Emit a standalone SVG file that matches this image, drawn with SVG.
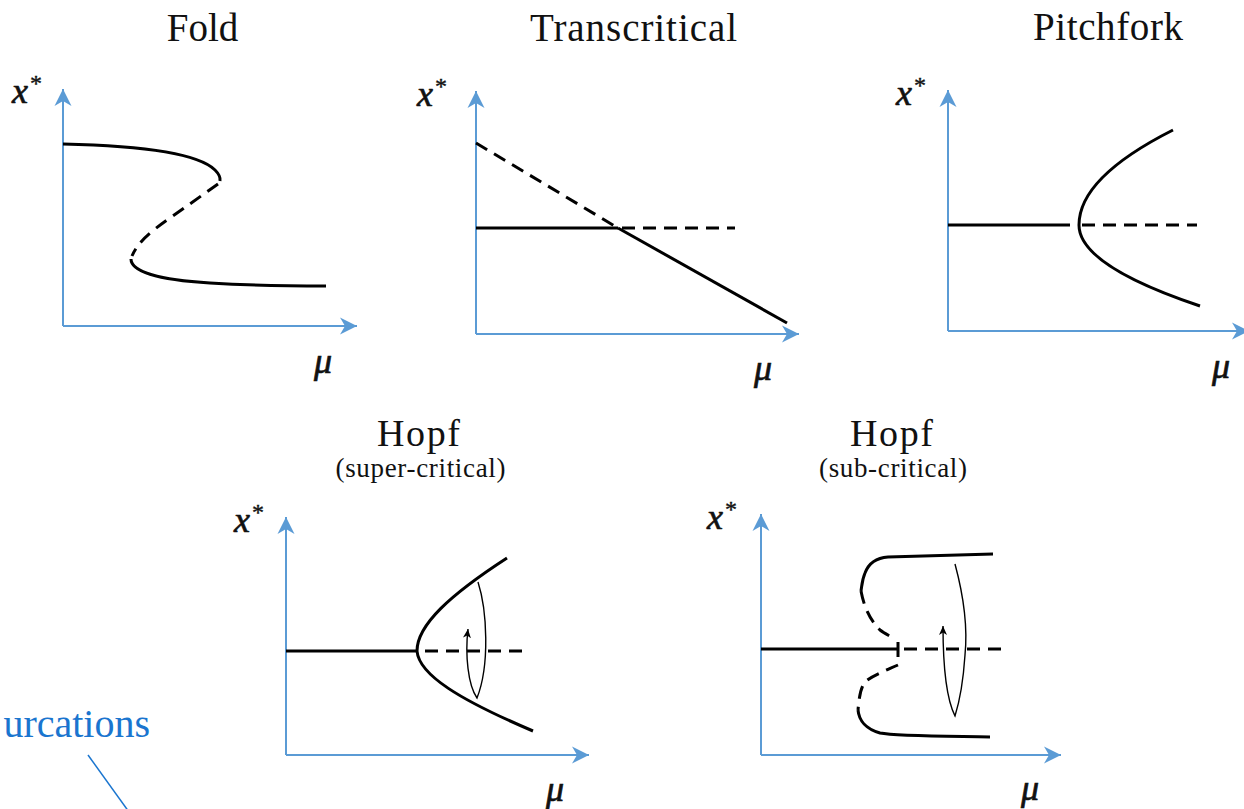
<svg xmlns="http://www.w3.org/2000/svg" width="1244" height="809" viewBox="0 0 1244 809">
<style>
.title{font-family:"Liberation Serif","Times New Roman",serif;fill:#111;text-anchor:middle}
.sub{font-family:"Liberation Serif","Times New Roman",serif;font-size:27px;fill:#111;text-anchor:middle}
.lbl{font-family:"Liberation Serif","Times New Roman",serif;font-style:italic;font-size:36px;fill:#111;stroke:#111;stroke-width:0.7}
.ast{font-style:normal;font-size:24px;stroke-width:0.4}
.axis{stroke:#5b9bd5;stroke-width:2;fill:none;marker-end:url(#ax)}
.c{stroke:#000;stroke-width:3;fill:none;stroke-linecap:butt}
.d{stroke:#000;stroke-width:3;fill:none;stroke-dasharray:13 8}
.loop{stroke:#000;stroke-width:1.4;fill:none;marker-end:url(#sm)}
.blue{font-family:"Liberation Serif","Times New Roman",serif;font-size:40px;fill:#1a75cf}
</style>
<defs>
<marker id="ax" markerUnits="userSpaceOnUse" markerWidth="18" markerHeight="18" viewBox="0 0 18 18" refX="17" refY="9" orient="auto">
<path d="M17,9 L0,0.5 L5,9 L0,17.5 Z" fill="#5b9bd5"/>
</marker>
<marker id="sm" markerUnits="userSpaceOnUse" markerWidth="10" markerHeight="10" viewBox="0 0 10 10" refX="9" refY="5" orient="auto">
<path d="M9,5 L0,1 L2.5,5 L0,9 Z" fill="#000"/>
</marker>
</defs>

<g id="fold">
<text class="title" x="202.5" y="41" font-size="39">Fold</text>
<text class="lbl" x="12" y="103">x<tspan class="ast" dx="2" dy="-12">*</tspan></text>
<text class="lbl" x="314" y="373">μ</text>
<line class="axis" x1="63" y1="326" x2="63" y2="89"/>
<line class="axis" x1="63" y1="326" x2="357" y2="326"/>
<path class="c" d="M63,144 C150,146 200,155 215,170 Q221,176 220,181"/>
<path class="d" d="M218,184 L170,218 C150,232 138,242 132,256"/>
<path class="c" d="M131,259 C131,272 160,280 210,283 S300,286 326,286"/>
</g>

<g id="transcritical">
<text class="title" x="633.5" y="41" font-size="39" textLength="207">Transcritical</text>
<text class="lbl" x="417" y="106">x<tspan class="ast" dx="2" dy="-12">*</tspan></text>
<text class="lbl" x="754" y="380">μ</text>
<line class="axis" x1="476" y1="334" x2="476" y2="91"/>
<line class="axis" x1="476" y1="334" x2="799" y2="334"/>
<path class="d" d="M476,143 L618,228"/>
<path class="c" d="M476,228 L618,228"/>
<path class="d" d="M622,228 L735,228"/>
<path class="c" d="M618,228 L787,323"/>
</g>

<g id="pitchfork">
<text class="title" x="1108" y="40" font-size="39" textLength="150">Pitchfork</text>
<text class="lbl" x="896" y="105">x<tspan class="ast" dx="2" dy="-12">*</tspan></text>
<text class="lbl" x="1212" y="378">μ</text>
<line class="axis" x1="948" y1="331" x2="948" y2="90"/>
<line class="axis" x1="948" y1="331" x2="1249" y2="331"/>
<path class="c" d="M948,225 L1070,225"/>
<path class="d" d="M1082,225 L1197,225"/>
<path class="c" d="M1173,130 Q1079,177.5 1079,225 Q1079,265.5 1200,306"/>
</g>

<g id="hopf-super">
<text class="title" x="418.5" y="446" font-size="38" textLength="83">Hopf</text>
<text class="sub" x="420.5" y="477" textLength="170">(super-critical)</text>
<text class="lbl" x="234" y="532">x<tspan class="ast" dx="2" dy="-12">*</tspan></text>
<text class="lbl" x="546" y="801">μ</text>
<line class="axis" x1="286" y1="755" x2="286" y2="517"/>
<line class="axis" x1="286" y1="755" x2="589" y2="755"/>
<path class="c" d="M286,651 L417,651"/>
<path class="d" d="M425,651 L529,651"/>
<path class="c" d="M507,558 C450,595 417,625 417,651 C419,675 460,700 533,731"/>
<path class="loop" d="M478,582 C487,610 490,665 477,698 C468,685 465,655 468,629"/>
</g>

<g id="hopf-sub">
<text class="title" x="891.5" y="446" font-size="38" textLength="83">Hopf</text>
<text class="sub" x="893" y="477" textLength="148">(sub-critical)</text>
<text class="lbl" x="707" y="529">x<tspan class="ast" dx="2" dy="-12">*</tspan></text>
<text class="lbl" x="1021" y="800">μ</text>
<line class="axis" x1="761" y1="755" x2="761" y2="514"/>
<line class="axis" x1="761" y1="755" x2="1061" y2="755"/>
<path class="c" d="M761,649 L898,649"/>
<path class="c" d="M898,642 L898,657"/>
<path class="d" d="M904,649 L1001,649"/>
<path class="c" d="M993,554 L888,557 C874,558 868,565 865,573 C862,580 862,585 861,591"/>
<path class="d" d="M861,591 C864,607 870,620 880,630 C884,633 888,635 893,638"/>
<path class="d" d="M898,665 C887,670 874,675 866,681 C860,687 859,700 858,710"/>
<path class="c" d="M858,710 C859,720 864,728 880,733 C895,736 930,736 990,737"/>
<path class="loop" d="M955,564 C962,590 968,625 965,655 C963,685 960,700 955,716 C947,700 943,670 943,626"/>
</g>

<g id="caption">
<text class="blue" x="150" y="737" text-anchor="end">urcations</text>
</g>

<g id="connectors">
<line x1="88" y1="755" x2="129" y2="812" stroke="#1a75cf" stroke-width="1.5"/>
</g>
</svg>
